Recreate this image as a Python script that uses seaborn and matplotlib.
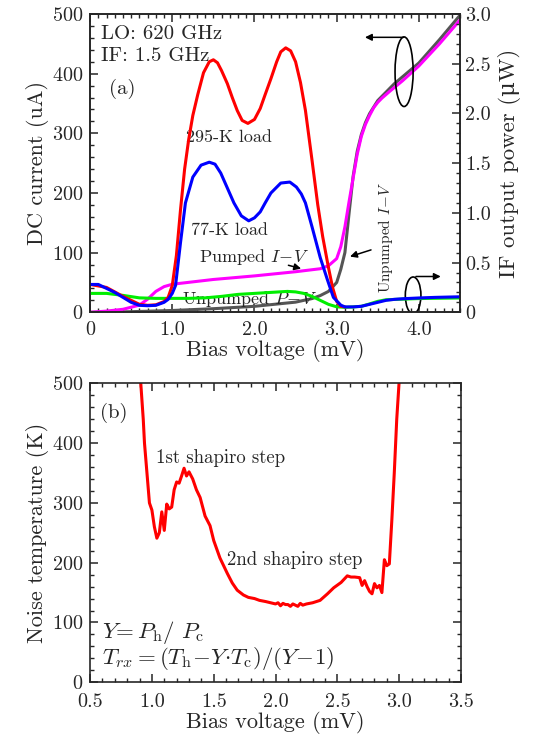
import numpy as np
import pandas as pd
import seaborn as sns
import matplotlib
matplotlib.use("Agg")
import matplotlib.pyplot as plt
import matplotlib.ticker as ticker
from matplotlib.patches import Ellipse

# ---- panel (a) data ----
# IF output power (uW) with 295-K load
hot_v = [0.0, 0.2, 0.4, 0.6, 0.7, 0.8, 0.9, 0.95, 1.0, 1.05, 1.1, 1.15, 1.2, 1.25, 1.31, 1.38,
         1.45, 1.5, 1.55, 1.6, 1.67, 1.73, 1.79, 1.85, 1.92, 2.0, 2.07, 2.13, 2.2, 2.27, 2.32, 2.38,
         2.44, 2.5, 2.56, 2.62, 2.7, 2.77, 2.83, 2.9, 2.95, 3.0, 3.05, 3.1]
hot_p = [0.28, 0.25, 0.16, 0.08, 0.07, 0.075, 0.108, 0.15, 0.27, 0.57, 1.03, 1.44, 1.74, 1.98, 2.19, 2.41,
         2.52, 2.54, 2.51, 2.43, 2.30, 2.16, 2.03, 1.93, 1.90, 1.94, 2.05, 2.19, 2.35, 2.52, 2.62, 2.66,
         2.63, 2.52, 2.31, 2.03, 1.53, 1.08, 0.76, 0.45, 0.25, 0.11, 0.06, 0.054]

# IF output power (uW) with 77-K load
cold_v = [0.0, 0.1, 0.2, 0.3, 0.4, 0.5, 0.6, 0.7, 0.8, 0.9, 0.95, 1.0, 1.04, 1.1, 1.16, 1.25,
          1.35, 1.45, 1.52, 1.59, 1.67, 1.75, 1.84, 1.93, 2.0, 2.07, 2.13, 2.2, 2.32, 2.43, 2.51, 2.57,
          2.62, 2.7, 2.8, 2.89, 2.96, 3.05, 3.1, 3.2, 3.3, 3.4, 3.5, 3.6, 3.7, 3.8, 4.0, 4.2, 4.5]
cold_p = [0.28, 0.28, 0.24, 0.20, 0.15, 0.10, 0.07, 0.066, 0.07, 0.10, 0.13, 0.19, 0.27, 0.70, 1.10, 1.36,
          1.48, 1.51, 1.49, 1.40, 1.25, 1.10, 0.97, 0.92, 0.95, 1.01, 1.10, 1.20, 1.30, 1.31, 1.26, 1.19,
          1.10, 0.86, 0.55, 0.32, 0.15, 0.072, 0.054, 0.054, 0.06, 0.08, 0.10, 0.12, 0.13, 0.136, 0.144, 0.15, 0.156]

# unpumped P-V (uW)
unp_pv_v = [0.0, 0.2, 0.4, 0.6, 0.8, 1.0, 1.2, 1.4, 1.6, 1.8, 2.0, 2.2, 2.4, 2.5, 2.6, 2.7,
            2.8, 2.9, 3.0, 3.1, 3.2, 3.3, 3.4, 3.5, 3.6, 3.8, 4.0, 4.5]
unp_pv_p = [0.19, 0.19, 0.17, 0.145, 0.14, 0.14, 0.14, 0.145, 0.16, 0.18, 0.19, 0.20, 0.21, 0.205, 0.19, 0.16,
            0.12, 0.08, 0.055, 0.05, 0.054, 0.06, 0.084, 0.11, 0.126, 0.132, 0.138, 0.144]

# pumped I-V (uA)
pump_v = [0.0, 0.2, 0.4, 0.6, 0.7, 0.8, 0.9, 1.0, 1.5, 2.0, 2.5, 2.8, 2.9, 3.0, 3.05, 3.1,
          3.15, 3.2, 3.25, 3.3, 3.35, 3.4, 3.45, 3.5, 3.55, 3.65, 3.8, 4.0, 4.25, 4.5]
pump_i = [0, 2, 5, 12, 22, 35, 43, 47, 55, 61, 68, 73, 78, 90, 110, 143,
          185, 225, 265, 295, 315, 330, 343, 352, 359, 371, 388, 413, 450, 490]

# unpumped I-V (uA)
unp_v = [0.0, 0.5, 1.0, 1.5, 2.0, 2.5, 2.7, 2.8, 2.9, 3.0, 3.05, 3.1, 3.15, 3.2, 3.25, 3.3,
         3.35, 3.4, 3.5, 3.7, 4.0, 4.25, 4.5]
unp_i = [0, 1, 3, 6, 10, 17, 23, 28, 35, 50, 72, 100, 165, 228, 270, 298,
         318, 333, 355, 383, 418, 457, 498]

# ---- panel (b) data: noise temperature (K) ----
nt_v = [0.91, 0.93, 0.94, 0.96, 0.98, 1.00, 1.02, 1.04, 1.06, 1.08, 1.10, 1.12, 1.14, 1.16, 1.18,
        1.20, 1.22, 1.24, 1.26, 1.28, 1.30, 1.33, 1.36, 1.39, 1.43, 1.47, 1.50, 1.55, 1.61, 1.65,
        1.69, 1.74, 1.78, 1.83, 1.87, 1.92, 1.96, 2.00, 2.02, 2.04, 2.06, 2.08, 2.10, 2.12, 2.14,
        2.16, 2.18, 2.20, 2.22, 2.25, 2.30, 2.36, 2.42, 2.47, 2.53, 2.58, 2.61, 2.64, 2.68, 2.70,
        2.72, 2.74, 2.76, 2.78, 2.80, 2.82, 2.84, 2.86, 2.88, 2.90, 2.92, 2.94, 2.96, 2.98, 3.00]
nt_T = [500, 440, 400, 350, 300, 288, 260, 241, 250, 285, 254, 298, 290, 293, 322,
        335, 333, 345, 358, 345, 352, 340, 322, 309, 278, 262, 237, 208, 182, 166,
        154, 146, 142, 140, 137, 135, 133, 131, 133, 128, 132, 130, 130, 127, 131,
        129, 127, 132, 129, 131, 133, 137, 148, 158, 167, 178, 176, 176, 175, 162,
        170, 160, 152, 148, 165, 158, 162, 150, 205, 195, 198, 270, 350, 440, 505]

sns.set_style("ticks")
plt.rcParams['font.family'] = ['cmr10', 'DejaVu Serif']
plt.rcParams['mathtext.fontset'] = 'cm'
plt.rcParams['axes.formatter.use_mathtext'] = True
plt.rcParams['axes.unicode_minus'] = False

fig = plt.figure(figsize=(5.33, 7.40), dpi=100)
ax = fig.add_axes([0.169, 0.578, 0.694, 0.403])
ax2 = ax.twinx()
bx = fig.add_axes([0.169, 0.078, 0.696, 0.404])

lw = 2.2
sns.lineplot(x=unp_v, y=unp_i, ax=ax, color='#555555', linewidth=lw)
sns.lineplot(x=pump_v, y=pump_i, ax=ax, color='#ff00ff', linewidth=lw)
sns.lineplot(x=unp_pv_v, y=unp_pv_p, ax=ax2, color='#00ee00', linewidth=lw)
sns.lineplot(x=hot_v, y=hot_p, ax=ax2, color='#ff0000', linewidth=lw)
sns.lineplot(x=cold_v, y=cold_p, ax=ax2, color='#0000ff', linewidth=lw)

ax.set_xlim(0, 4.5)
ax.set_ylim(0, 500)
ax2.set_ylim(0, 3.0)
ax.set_xticks([0, 1, 2, 3, 4])
ax.set_xticklabels(['0', '1.0', '2.0', '3.0', '4.0'])
ax.set_yticks([0, 100, 200, 300, 400, 500])
ax2.set_yticks([0, 0.5, 1.0, 1.5, 2.0, 2.5, 3.0])
ax2.set_yticklabels(['0', '0.5', '1.0', '1.5', '2.0', '2.5', '3.0'])
ax.xaxis.set_minor_locator(ticker.MultipleLocator(0.1))
ax.yaxis.set_minor_locator(ticker.MultipleLocator(20))
ax2.yaxis.set_minor_locator(ticker.MultipleLocator(0.1))
ax.tick_params(which='both', direction='in', top=True, labelsize=14.5)
ax.tick_params(which='major', length=6, width=1.1)
ax.tick_params(which='minor', length=3, width=1)
ax.tick_params(axis='x', pad=6)
ax.tick_params(axis='y', pad=5)
ax2.tick_params(which='both', direction='in', labelsize=14.5)
ax2.tick_params(which='major', length=6, width=1.1)
ax2.tick_params(which='minor', length=3, width=1)
ax.set_xlabel('Bias voltage (mV)', fontsize=16, labelpad=0)
ax.set_ylabel('DC current (uA)', fontsize=16, labelpad=2)
ax2.set_ylabel('IF output power (μW)', fontsize=16.5, labelpad=5)

ax.text(0.13, 466, 'LO: 620 GHz', fontsize=15, va='center')
ax.text(0.13, 430, 'IF: 1.5 GHz', fontsize=15, va='center')
ax.text(0.23, 374, '(a)', fontsize=15, va='center')
ax.text(1.17, 294, '295-K load', fontsize=13, va='center')
ax.text(1.23, 138, '77-K load', fontsize=13, va='center')
ax.text(1.33, 92, r'Pumped $I\!-\!V$', fontsize=13, va='center')
ax.text(1.12, 23, r'Unpumped $P\!-\!V$', fontsize=13, va='center')
ax.text(3.59, 126, r'Unpumped $I\!-\!V$', fontsize=11, va='center', ha='center', rotation=90)

arrow = dict(arrowstyle='-|>', color='black', lw=1.1, mutation_scale=10)
ax.annotate('', xy=(2.60, 72), xytext=(2.38, 80), arrowprops=arrow)
ax.annotate('', xy=(3.13, 92), xytext=(3.45, 106), arrowprops=arrow)
ax.annotate('', xy=(3.31, 461), xytext=(3.85, 461), arrowprops=arrow)
ax.annotate('', xy=(4.30, 60), xytext=(3.93, 60), arrowprops=arrow)
ax2.add_patch(Ellipse((3.82, 2.42), 0.22, 0.70, fill=False, color='black', lw=1.2))
ax2.add_patch(Ellipse((3.93, 0.17), 0.19, 0.37, fill=False, color='black', lw=1.2))

# ---- panel (b) ----
sns.lineplot(x=nt_v, y=nt_T, ax=bx, color='#ff0000', linewidth=lw)
bx.set_xlim(0.5, 3.5)
bx.set_ylim(0, 500)
bx.set_xticks([0.5, 1.0, 1.5, 2.0, 2.5, 3.0, 3.5])
bx.set_xticklabels(['0.5', '1.0', '1.5', '2.0', '2.5', '3.0', '3.5'])
bx.set_yticks([0, 100, 200, 300, 400, 500])
bx.xaxis.set_minor_locator(ticker.MultipleLocator(0.1))
bx.yaxis.set_minor_locator(ticker.MultipleLocator(20))
bx.tick_params(which='both', direction='in', top=True, right=True, labelsize=14.5)
bx.tick_params(which='major', length=6, width=1.1)
bx.tick_params(which='minor', length=3, width=1)
bx.tick_params(axis='x', pad=8)
bx.tick_params(axis='y', pad=5)
bx.set_xlabel('Bias voltage (mV)', fontsize=16, labelpad=0)
bx.set_ylabel('Noise temperature (K)', fontsize=16, labelpad=2)

bx.text(0.58, 450, '(b)', fontsize=15, va='center')
bx.text(1.03, 375, '1st shapiro step', fontsize=13.5, va='center')
bx.text(1.61, 204, '2nd shapiro step', fontsize=13.5, va='center')
bx.text(0.60, 84, r'$Y\!=P_{\rm h}/\ P_{\rm c}$', fontsize=16.5, va='center')
bx.text(0.60, 40, r'$T_{rx}=(T_{\rm h}\!-\!Y{\cdot}T_{\rm c})/(Y\!-\!1)$', fontsize=16.5, va='center')

for a in (ax, ax2, bx):
    for s in a.spines.values():
        s.set_linewidth(1.2)
        s.set_visible(True)

fig.savefig('out.png', dpi=100)
